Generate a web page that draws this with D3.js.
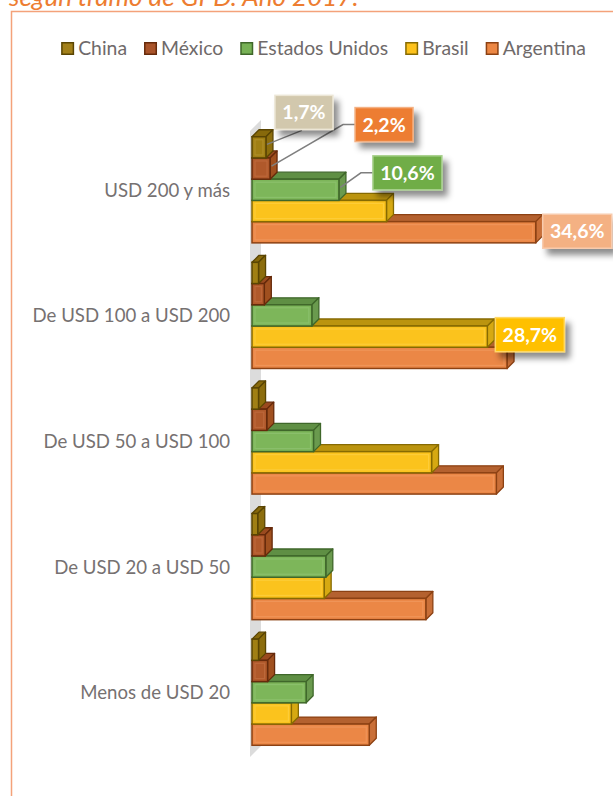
<!DOCTYPE html>
<html>
<head>
<meta charset="utf-8">
<script src="https://cdn.jsdelivr.net/npm/d3@7"></script>
<style>
  html, body { margin: 0; padding: 0; background: #ffffff; }
  svg { display: block; }
</style>
</head>
<body>
<svg id="chart" width="613" height="796"></svg>
<script>
// ---------- DATA ----------
const titleText = "según tramo de GPD. Año 2017.";
const categories = ["USD 200 y más", "De USD 100 a USD 200", "De USD 50 a USD 100", "De USD 20 a USD 50", "Menos de USD 20"];
const seriesNames = ["China", "México", "Estados Unidos", "Brasil", "Argentina"];
const china     = [1.7, 0.8, 0.8, 0.7, 0.8];
const mexico    = [2.2, 1.5, 1.8, 1.6, 1.9];
const eeuu      = [10.6, 7.3, 7.5, 9.0, 6.6];
const brasil    = [16.4, 28.7, 21.9, 8.8, 4.8];
const argentina = [34.6, 31.1, 29.8, 21.2, 14.3];
const seriesValues = [china, mexico, eeuu, brasil, argentina];
// labelled points: [series index, category index]
const labelledPoints = [[0, 0], [1, 0], [2, 0], [4, 0], [3, 1]];

// ---------- STYLE ----------
const colors = {
  "China":          {front: "#a07f14", top: "#87690b", side: "#8c6d0d", stroke: "#5a4503", light: "#c0a040", legend: "#a2801a"},
  "México":         {front: "#b0592b", top: "#9a4a1f", side: "#a0501f", stroke: "#662a0b", light: "#cc7a4e", legend: "#a9542a"},
  "Estados Unidos": {front: "#7db65a", top: "#5f8f44", side: "#6a9a4e", stroke: "#3f672a", light: "#9ccb80", legend: "#77b155"},
  "Brasil":         {front: "#fbc31d", top: "#bb940f", side: "#d6a912", stroke: "#866a02", light: "#ffd659", legend: "#fdc21c"},
  "Argentina":      {front: "#eb8746", top: "#b4612f", side: "#c96f38", stroke: "#8c4113", light: "#f5a56e", legend: "#ec8744"}
};
const labelStyle = {
  "China":          {fill: "#d2c8ad", border: "#ece6d6"},
  "México":         {fill: "#ed7d31", border: "#f4b183"},
  "Estados Unidos": {fill: "#70ad47", border: "#a9d18e"},
  "Brasil":         {fill: "#ffc000", border: "#ffd966"},
  "Argentina":      {fill: "#f4b183", border: "#f8cbad"}
};
const FONT = "Lato, 'Open Sans', sans-serif";
const DEPTH = 7;

const svg = d3.select("#chart");
const defs = svg.append("defs");
const f = defs.append("filter").attr("id", "shadow").attr("x", "-30%").attr("y", "-30%").attr("width", "160%").attr("height", "170%");
f.append("feDropShadow").attr("dx", 5).attr("dy", 6).attr("stdDeviation", 3)
  .attr("flood-color", "#000").attr("flood-opacity", 0.45);

// ---------- TITLE & FRAME ----------
svg.append("text").attr("x", 9).attr("y", 6)
  .attr("font-family", FONT).attr("font-style", "italic").attr("font-size", 26)
  .attr("fill", "#ed7d31").text(titleText);

svg.append("rect").attr("x", 11.5).attr("y", 11.5).attr("width", 700).attr("height", 900)
  .attr("fill", "none").attr("stroke", "#f4a27a").attr("stroke-width", 1.5);

// ---------- SCALES ----------
const x = d3.scaleLinear().domain([0, 40]).range([252, 580]);
const y0 = d3.scaleBand().domain(categories).range([127, 755]).paddingInner(0.155).paddingOuter(0.0775);
const y1 = d3.scaleBand().domain(seriesNames).range([0, y0.bandwidth()]);

// ---------- WALL ----------
svg.append("path")
  .attr("d", `M${x(0) - 2},${y0.range()[0] + 4} L${x(0) + 9},${y0.range()[0] - 7} L${x(0) + 9},${y0.range()[1] - 9} L${x(0) - 2},${y0.range()[1] + 2} Z`)
  .attr("fill", "#dcdcdc");

// ---------- BARS ----------
const plot = svg.append("g");
categories.forEach((cat, ci) => {
  const g = plot.append("g");
  // draw from bottom series to top series so upper bars occlude lower top faces
  for (let si = seriesNames.length - 1; si >= 0; si--) {
    const name = seriesNames[si];
    const v = seriesValues[si][ci];
    const c = colors[name];
    const x0 = x(0), x1 = x(v);
    const yt = y0(cat) + y1(name), h = y1.bandwidth(), yb = yt + h;
    const d = DEPTH;
    g.append("path")
      .attr("d", `M${x0},${yt} L${x1},${yt} L${x1 + d},${yt - d} L${x0 + d},${yt - d} Z`)
      .attr("fill", c.top).attr("stroke", c.stroke).attr("stroke-width", 1.3).attr("stroke-linejoin", "round");
    g.append("path")
      .attr("d", `M${x1},${yt} L${x1 + d},${yt - d} L${x1 + d},${yb - d} L${x1},${yb} Z`)
      .attr("fill", c.side).attr("stroke", c.stroke).attr("stroke-width", 1.3).attr("stroke-linejoin", "round");
    g.append("rect").attr("x", x0).attr("y", yt).attr("width", x1 - x0).attr("height", h)
      .attr("fill", c.front).attr("stroke", c.stroke).attr("stroke-width", 1.5);
    if (x1 - x0 > 10) {
      g.append("rect").attr("x", x0 + 3).attr("y", yt + 3).attr("width", x1 - x0 - 6).attr("height", h - 6)
        .attr("fill", "none").attr("stroke", c.light).attr("stroke-width", 1.2).attr("opacity", 0.45);
    }
  }
});

// ---------- CATEGORY LABELS ----------
svg.append("g").selectAll("text").data(categories).join("text")
  .attr("x", 230).attr("y", d => y0(d) + y0.bandwidth() / 2 + 7)
  .attr("text-anchor", "end").attr("font-family", FONT).attr("font-size", 18.6)
  .attr("fill", "#767171").text(d => d);

// ---------- LEGEND ----------
const legend = svg.append("g");
let lx = 0;
seriesNames.forEach(name => {
  const it = legend.append("g");
  it.append("rect").attr("x", lx + 0.75).attr("y", 42.75).attr("width", 11.5).attr("height", 11.5)
    .attr("fill", colors[name].legend).attr("stroke", colors[name].stroke).attr("stroke-width", 1.5);
  const t = it.append("text").attr("x", lx + 17).attr("y", 55)
    .attr("font-family", FONT).attr("font-size", 19.4).attr("fill", "#6f6a6a").text(name);
  lx += 17 + t.node().getComputedTextLength() + 17;
});
const legendW = lx - 17;
legend.attr("transform", `translate(${323.5 - legendW / 2},0)`);

// ---------- DATA LABELS ----------
const fmt = v => d3.format(".1f")(v).replace(".", ",") + "%";
const placement = {
  "0-0": {dx: 9,  dy: -52, leader: "diag"},
  "1-0": {dx: 85, dy: -61, leader: "elbow"},
  "2-0": {dx: 34, dy: -34, leader: "elbow"},
  "4-0": {dx: 7,  dy: -18, leader: "none"},
  "3-1": {dx: 8,  dy: -19, leader: "none"}
};
const labels = svg.append("g");
labelledPoints.forEach(([si, ci]) => {
  const name = seriesNames[si];
  const v = seriesValues[si][ci];
  const xe = x(v);
  const cy = y0(categories[ci]) + y1(name) + y1.bandwidth() / 2;
  const p = placement[si + "-" + ci];
  const g = labels.append("g");
  const t = g.append("text").attr("font-family", FONT).attr("font-weight", "bold").attr("font-size", 19.5)
    .attr("fill", "#ffffff").text(fmt(v));
  const tw = t.node().getComputedTextLength();
  const bw = Math.round(tw + 15), bh = 34;
  const bx = xe + p.dx, by = cy + p.dy;
  if (p.leader === "diag") {
    labels.insert("path", ":first-child")
      .attr("d", `M${bx + 27},${by + bh + 1} L${xe + 1},${cy - 3}`)
      .attr("stroke", "#7f7f7f").attr("stroke-width", 1.5).attr("fill", "none");
  } else if (p.leader === "elbow") {
    labels.insert("path", ":first-child")
      .attr("d", `M${bx},${by + bh / 2} L${bx - 12},${by + bh / 2} L${xe + 1.5},${cy - 2.5}`)
      .attr("stroke", "#7f7f7f").attr("stroke-width", 1.5).attr("fill", "none");
  }
  g.insert("rect", "text").attr("x", bx).attr("y", by).attr("width", bw).attr("height", bh)
    .attr("fill", labelStyle[name].fill).attr("stroke", labelStyle[name].border).attr("stroke-width", 1.5)
    .attr("filter", "url(#shadow)");
  t.attr("x", bx + bw / 2).attr("y", by + 24).attr("text-anchor", "middle");
});
</script>
</body>
</html>
